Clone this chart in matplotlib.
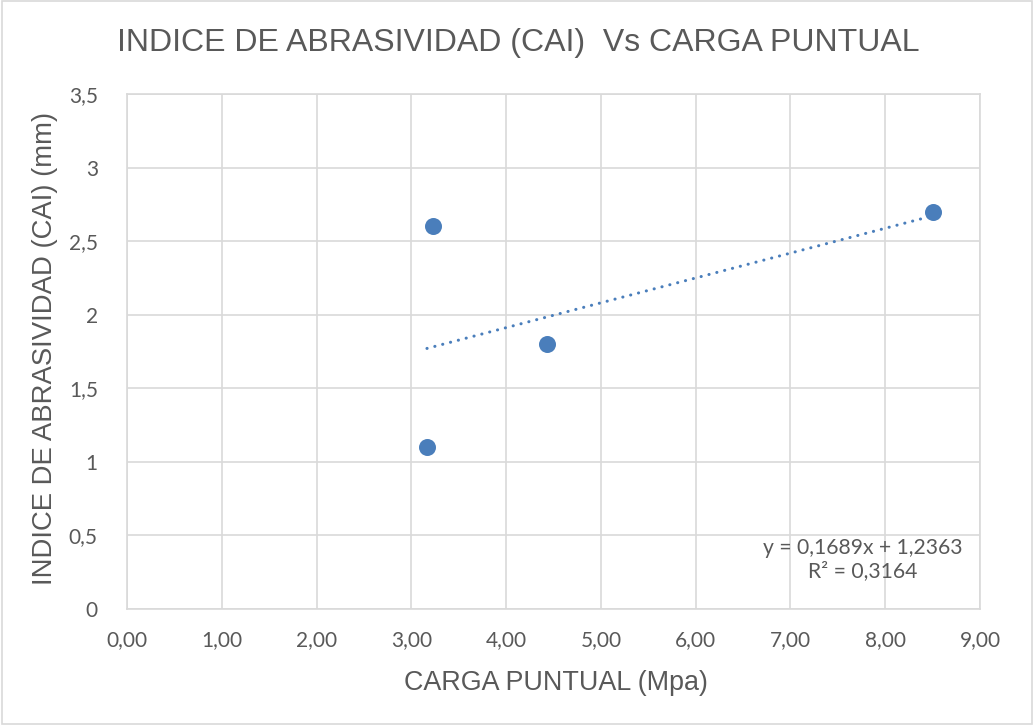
import matplotlib
matplotlib.use("Agg")
import matplotlib.pyplot as plt
import numpy as np
from matplotlib.ticker import FuncFormatter, MultipleLocator
from matplotlib.patches import Rectangle

# ensayos: carga puntual (MPa) vs indice de abrasividad CAI (mm)
carga = [3.165, 3.23, 4.43, 8.50]
cai = [1.1, 2.6, 1.8, 2.7]

# linea de tendencia (regresion lineal)
pendiente = 0.1689
intercepto = 1.2363
r2 = 0.3164

azul = "#4a7ebb"
gris_txt = "#595959"
gris_grid = "#d9d9d9"

fig = plt.figure(figsize=(10.34, 7.25), dpi=100)
ax = fig.add_axes([127 / 1034, 1 - 609 / 725, (980 - 127) / 1034, (609 - 94) / 725])

ax.scatter(carga, cai, s=150, color=azul, zorder=3, linewidths=0)

xt = np.array([min(carga), max(carga)])
ax.plot(xt, pendiente * xt + intercepto, color=azul, lw=2.2,
        linestyle=(0, (0.05, 2.6)), dash_capstyle="round", zorder=2)

ax.set_xlim(0, 9)
ax.set_ylim(0, 3.5)
ax.xaxis.set_major_locator(MultipleLocator(1))
ax.yaxis.set_major_locator(MultipleLocator(0.5))
ax.xaxis.set_major_formatter(FuncFormatter(lambda v, p: f"{v:.2f}".replace(".", ",")))
ax.yaxis.set_major_formatter(FuncFormatter(lambda v, p: f"{v:g}".replace(".", ",")))

ax.grid(True, color=gris_grid, lw=1.2)
ax.set_axisbelow(True)
for s in ax.spines.values():
    s.set_color(gris_grid)
    s.set_linewidth(1.2)
ax.tick_params(length=0, labelsize=15, labelcolor=gris_txt)
ax.tick_params(axis="x", pad=15)
ax.tick_params(axis="y", pad=21)
for lab in ax.get_xticklabels() + ax.get_yticklabels():
    lab.set_family("Lato")

ax.text(7.76, 0.335, f"y = {pendiente:.4f}x + {intercepto:.4f}\nR² = {r2:.4f}".replace(".", ","),
        ha="center", va="center", fontsize=15.2, color=gris_txt, family="Lato",
        linespacing=1.2)

fig.text(518 / 1034, 1 - 43 / 725, "INDICE DE ABRASIVIDAD (CAI)  Vs CARGA PUNTUAL",
         ha="center", va="center", fontsize=23, color=gris_txt, family="Liberation Sans")
fig.text(556 / 1034, 1 - 683 / 725, "CARGA PUNTUAL (Mpa)", ha="center", va="center",
         fontsize=19.4, color=gris_txt, family="Liberation Sans")
fig.text(45 / 1034, 1 - 348 / 725, "INDICE DE ABRASIVIDAD (CAI) (mm)", ha="center",
         va="center", rotation=90, fontsize=19.8, color=gris_txt, family="Liberation Sans")

# borde del area del grafico
fig.patches.append(Rectangle((0.002, 0.002), 0.996, 0.996, transform=fig.transFigure,
                             fill=False, edgecolor="#d9d9d9", lw=1.2))

fig.savefig("out.png", dpi=100)
